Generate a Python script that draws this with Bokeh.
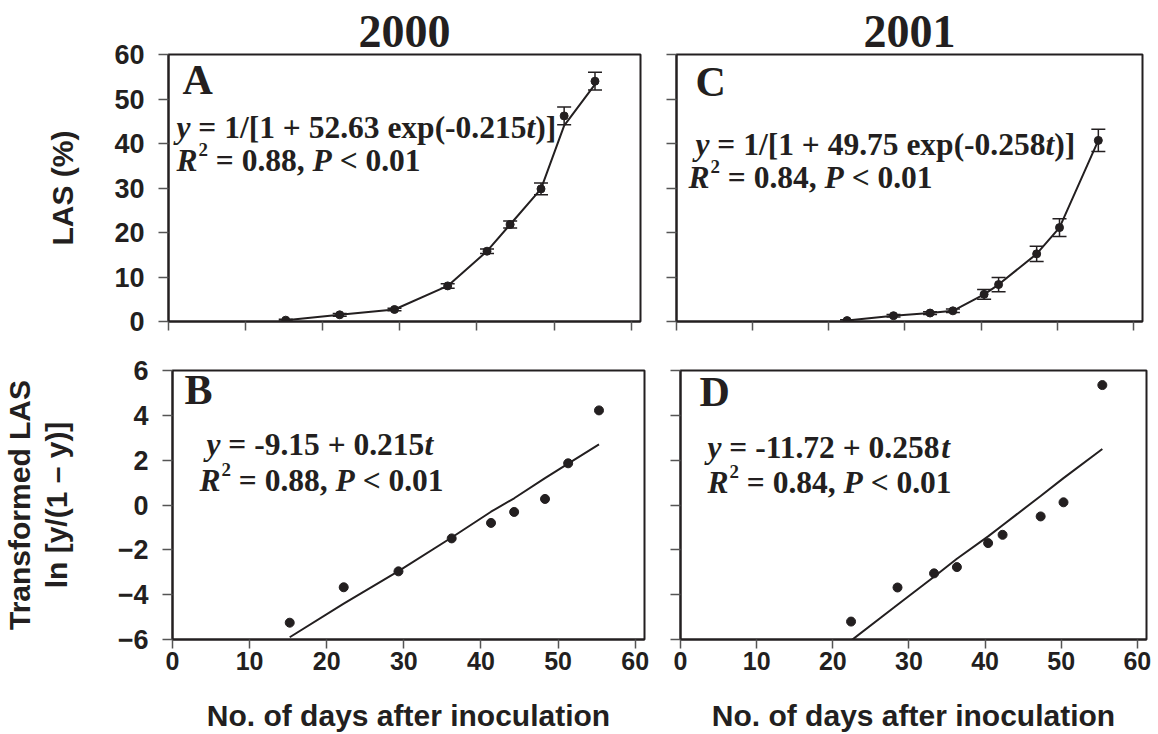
from bokeh.plotting import figure
from bokeh.layouts import column, row
from bokeh.models import (Label, Whisker, ColumnDataSource, FixedTicker,
                          Range1d, TeeHead, LinearAxis)
from bokeh.embed import file_html
from bokeh.resources import INLINE

# ---------------- data ----------------
years = ["2000", "2001"]
panel_letters = ["A", "B", "C", "D"]

days_2000 = [15.2, 22.2, 29.3, 36.2, 41.3, 44.3, 48.3, 51.3, 55.3]
las_2000 = [0.3, 1.5, 2.7, 8.0, 15.8, 21.8, 29.8, 46.2, 54.0]
las_err_2000 = [0.2, 0.3, 0.3, 0.5, 0.5, 0.8, 1.3, 2.0, 2.0]
las_line_2000 = [0.3, 1.5, 2.7, 8.0, 15.8, 21.8, 29.8, 44.0, 53.3]
logit_2000 = [-5.25, -3.67, -2.96, -1.49, -0.80, -0.31, 0.27, 1.86, 4.22]
logit_fit_2000 = [-5.9, -4.4, -2.95, -1.45, -0.3, 0.3, 1.2, 1.85, 2.7]

days_2001 = [22.4, 28.5, 33.3, 36.3, 40.4, 42.3, 47.3, 50.3, 55.4]
las_2001 = [0.2, 1.3, 1.9, 2.4, 6.1, 8.3, 15.2, 21.1, 40.7]
las_err_2001 = [0.2, 0.3, 0.3, 0.4, 1.1, 1.6, 1.7, 2.0, 2.5]
las_line_2001 = [0.2, 1.3, 1.9, 2.4, 6.1, 8.3, 15.2, 21.1, 40.7]
logit_2001 = [-5.2, -3.68, -3.05, -2.77, -1.70, -1.33, -0.51, 0.12, 5.35]
logit_fit_2001 = [-6.05, -4.45, -3.2, -2.4, -1.4, -0.9, 0.4, 1.2, 2.5]

x_ticks = [0, 10, 20, 30, 40, 50, 60]
las_ticks = [0, 10, 20, 30, 40, 50, 60]
logit_ticks = [-6, -4, -2, 0, 2, 4, 6]

x_label = "No. of days after inoculation"
las_label = "LAS (%)"
logit_label = "Transformed LAS\nln [y/(1 \u2013 y)]"

eq_A = [[("y", "i"), (" = 1/[1 + 52.63 exp(-0.215", "n"), ("t", "i"), (")]", "n")],
        [("R", "i"), ("2", "sup"), (" = 0.88, ", "n"), ("P", "i"), (" < 0.01", "n")]]
eq_C = [[("y", "i"), (" = 1/[1 + 49.75 exp(-0.258", "n"), ("t", "i"), (")]", "n")],
        [("R", "i"), ("2", "sup"), (" = 0.84, ", "n"), ("P", "i"), (" < 0.01", "n")]]
eq_B = [[("y", "i"), (" = -9.15 + 0.215", "n"), ("t", "i")],
        [("R", "i"), ("2", "sup"), (" = 0.88, ", "n"), ("P", "i"), (" < 0.01", "n")]]
eq_D = [[("y", "i"), (" = -11.72 + 0.258", "n"), ("t", "i")],
        [("R", "i"), ("2", "sup"), (" = 0.84, ", "n"), ("P", "i"), (" < 0.01", "n")]]

# ---------------- styling ----------------
INK = "#231f20"
SERIF = "Liberation Serif"
SANS = "Liberation Sans"
X_END = 61.2
BASE_FIX = 0.42   # empirical correction of the label baseline (fraction of size)

W_N = {' ': 250, '-': 333, '.': 250, ',': 250, '/': 278, '=': 570, '+': 570,
       '<': 570, '[': 333, ']': 333, '(': 333, ')': 333, 'e': 444, 'x': 500,
       'p': 556}
W_I = {'y': 444, 't': 278, 'R': 667, 'P': 611}


def tw(text, italic, size):
    tab = W_I if italic else W_N
    return sum(tab.get(c, 500) for c in text) / 1000.0 * size


def add_text(p, y0, dx, dy, text, size, style="bold", align="left"):
    p.add_layout(Label(x=0, y=y0, x_offset=dx, y_offset=-(dy - BASE_FIX * size),
                       text=text, text_font=SERIF, text_font_style=style,
                       text_font_size=f"{size:.1f}px", text_color=INK,
                       text_align=align, text_baseline="alphabetic"))


def rich(p, y0, dx, dy, segs, size):
    x = dx
    for text, kind in segs:
        if kind == "sup":
            s = size * 0.6
            add_text(p, y0, x + 1, dy - size * 0.5, text, s)
            x += tw(text, False, s) + 1
            continue
        italic = kind == "i"
        core = text.strip(' ')
        lead = len(text) - len(text.lstrip(' '))
        trail = len(text) - len(text.rstrip(' '))
        x += lead * 0.25 * size
        add_text(p, y0, x, dy, core, size, "bold italic" if italic else "bold")
        x += tw(core, italic, size) + trail * 0.25 * size


def make_fig(y_rng, y_ticks, left, top, show_xlab, show_ylab, ylabel,
             title=None, ylab_standoff=34):
    w_left = 168 if left else 20
    w_right = 16 if left else 8
    fw = 472 if left else 466
    b_top = 54 if top else 24
    b_bot = 25 if top else 93
    fh = 267 if top else 269
    p = figure(width=w_left + fw + w_right, height=b_top + fh + b_bot,
               frame_width=fw, frame_height=fh,
               min_border_left=w_left, min_border_right=w_right,
               min_border_top=b_top, min_border_bottom=b_bot,
               x_range=Range1d(0, X_END), y_range=Range1d(*y_rng),
               output_backend="svg", toolbar_location=None, tools="")
    if title is not None:
        tax = LinearAxis(ticker=FixedTicker(ticks=[]), axis_label=title)
        tax.axis_line_color = None
        tax.major_tick_line_color = None
        tax.minor_tick_line_color = None
        tax.major_tick_out = 0
        tax.major_label_text_font_size = "1px"
        tax.major_label_standoff = 0
        tax.axis_label_text_font = SERIF
        tax.axis_label_text_font_style = "bold"
        tax.axis_label_text_font_size = "46px"
        tax.axis_label_text_color = INK
        tax.axis_label_standoff = 8
        p.add_layout(tax, "above")
    p.grid.visible = False
    p.outline_line_color = INK
    p.outline_line_width = 2
    p.background_fill_color = "white"
    p.border_fill_color = "white"
    for ax in (p.xaxis[-1], p.yaxis[0]):
        ax.axis_line_color = INK
        ax.axis_line_width = 2
        ax.major_tick_line_color = "#555555"
        ax.major_tick_line_width = 1.5
        ax.major_tick_in = 0
        ax.minor_tick_line_color = None
        ax.major_label_text_color = INK
        ax.major_label_text_font = SANS
        ax.major_label_text_font_style = "bold"
        ax.axis_label_text_font = SANS
        ax.axis_label_text_font_style = "bold"
        ax.axis_label_text_color = INK
        ax.axis_label_text_font_size = "30px"
        ax.axis_label_text_line_height = 1.1
    xa, ya = p.below[0], p.yaxis[0]
    xa.ticker = FixedTicker(ticks=x_ticks)
    xa.major_tick_out = 9
    ya.ticker = FixedTicker(ticks=y_ticks)
    ya.major_tick_out = 10
    if show_xlab:
        xa.major_label_text_font_size = "25px"
        xa.major_label_standoff = 3
        xa.axis_label = x_label
        xa.axis_label_standoff = 26
    else:
        xa.major_label_overrides = {t: "" for t in x_ticks}
        xa.major_label_text_font_size = "1px"
        xa.major_label_standoff = 0
    if show_ylab:
        ya.major_label_text_font_size = "27px"
        ya.major_label_standoff = 14
        ya.axis_label = ylabel
        ya.axis_label_standoff = ylab_standoff
    else:
        ya.major_label_overrides = {t: "" for t in y_ticks}
        ya.major_label_text_font_size = "1px"
        ya.major_label_standoff = 0
    return p


def las_panel(p, days, vals, errs, line_vals):
    src = ColumnDataSource(dict(x=days, y=vals,
                                lo=[v - e for v, e in zip(vals, errs)],
                                hi=[v + e for v, e in zip(vals, errs)]))
    p.line(days, line_vals, line_color=INK, line_width=2)
    p.add_layout(Whisker(base="x", lower="lo", upper="hi", source=src,
                         line_color=INK, line_width=1.5,
                         lower_head=TeeHead(size=14, line_color=INK, line_width=1.5),
                         upper_head=TeeHead(size=14, line_color=INK, line_width=1.5)))
    p.scatter("x", "y", source=src, size=8, color=INK)


def logit_panel(p, days, vals, fit):
    p.line(days, fit, line_color=INK, line_width=2)
    p.scatter(days, vals, size=9, color=INK)


EQ = 31.5
# Panel A
pA = make_fig((0, 60), las_ticks, True, True, False, True, las_label,
              title=years[0], ylab_standoff=32)
las_panel(pA, days_2000, las_2000, las_err_2000, las_line_2000)
add_text(pA, 60, 14, 43, panel_letters[0], 42)
rich(pA, 60, 8, 86, eq_A[0], EQ)
rich(pA, 60, 8, 119, eq_A[1], EQ)

# Panel C
pC = make_fig((0, 60), las_ticks, False, True, False, False, None,
              title=years[1])
las_panel(pC, days_2001, las_2001, las_err_2001, las_line_2001)
add_text(pC, 60, 19, 45, panel_letters[2], 42)
rich(pC, 60, 19, 103, eq_C[0], EQ)
rich(pC, 60, 12, 136, eq_C[1], EQ)

# Panel B
pB = make_fig((-6, 6), logit_ticks, True, False, True, True, logit_label,
              ylab_standoff=42)
logit_panel(pB, days_2000, logit_2000, logit_fit_2000)
add_text(pB, 6, 12, 37, panel_letters[1], 42)
rich(pB, 6, 34, 87, eq_B[0], EQ)
rich(pB, 6, 27, 123, eq_B[1], EQ)

# Panel D
pD = make_fig((-6, 6), logit_ticks, False, False, True, False, None)
logit_panel(pD, days_2001, logit_2001, logit_fit_2001)
add_text(pD, 6, 19, 39, panel_letters[3], 42)
rich(pD, 6, 27, 90, eq_D[0], EQ)
rich(pD, 6, 27, 125, eq_D[1], EQ)

layout = column(row(pA, pC), row(pB, pD))
open("out.html", "w").write(file_html(layout, INLINE))
